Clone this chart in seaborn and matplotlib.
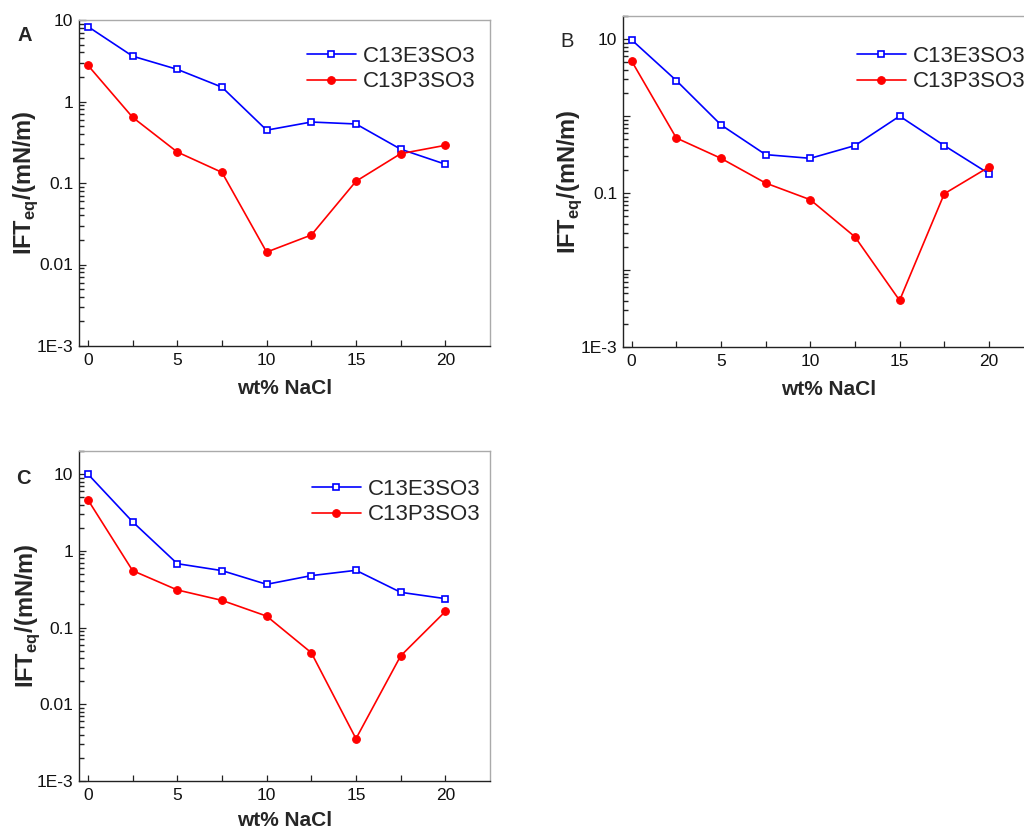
import numpy as np
import pandas as pd
import matplotlib
matplotlib.use("Agg")
import matplotlib.pyplot as plt
import matplotlib.ticker as mticker
import seaborn as sns

sns.set_style("ticks")
plt.rcParams['font.family'] = ['Liberation Sans', 'DejaVu Sans']
plt.rcParams['mathtext.fontset'] = 'custom'
plt.rcParams['mathtext.rm'] = 'Liberation Sans'
plt.rcParams['mathtext.bf'] = 'Liberation Sans:bold'

# wt% NaCl
nacl = [0, 2.5, 5, 7.5, 10, 12.5, 15, 17.5, 20]

# equilibrium IFT (mN/m)
e3_a = [8.3, 3.6, 2.48, 1.5, 0.445, 0.56, 0.53, 0.26, 0.17]
p3_a = [2.78, 0.64, 0.24, 0.135, 0.0142, 0.023, 0.105, 0.229, 0.29]

e3_b = [9.8, 2.9, 0.77, 0.316, 0.283, 0.414, 1.0, 0.414, 0.179]
p3_b = [5.2, 0.52, 0.283, 0.135, 0.082, 0.027, 0.00403, 0.098, 0.218]

e3_c = [10.0, 2.39, 0.68, 0.552, 0.366, 0.475, 0.557, 0.288, 0.238]
p3_c = [4.62, 0.552, 0.309, 0.226, 0.141, 0.047, 0.00356, 0.0427, 0.162]

series_names = ['C13E3SO3', 'C13P3SO3']
decades = [1e-3, 1e-2, 1e-1, 1, 10]
labels_full = ['1E-3', '0.01', '0.1', '1', '10']
labels_sparse = ['1E-3', '', '0.1', '', '10']

W, H = 1024, 831
fig = plt.figure(figsize=(W / 100, H / 100), dpi=100)

# box = (left, top, right, bottom) in pixels from the top-left corner
panels = [
    dict(box=(79, 20, 490, 346), ymax=10, e3=e3_a, p3=p3_a, ticks=labels_full,
         leg=(307, 46), letter='A', lpos=(18, 41), bold=True, ylab_x=-0.095, xpad=8),
    dict(box=(622.7, 16, 1033.6, 347), ymax=20, e3=e3_b, p3=p3_b, ticks=labels_sparse,
         leg=(857, 46), letter='B', lpos=(560, 47), bold=False, ylab_x=-0.093, xpad=8),
    dict(box=(79, 451, 490, 781), ymax=20, e3=e3_c, p3=p3_c, ticks=labels_full,
         leg=(312, 479), letter='C', lpos=(16, 484), bold=True, ylab_x=-0.09, xpad=6),
]

for p in panels:
    l, t, r, b = p['box']
    ax = fig.add_axes([l / W, 1 - b / H, (r - l) / W, (b - t) / H])

    df = pd.DataFrame({'NaCl': nacl + nacl,
                       'IFT': p['e3'] + p['p3'],
                       'series': [series_names[0]] * len(nacl) + [series_names[1]] * len(nacl)})

    sns.lineplot(data=df[df.series == series_names[0]], x='NaCl', y='IFT', ax=ax,
                 color='#0000ff', marker='s', markersize=5, markerfacecolor='white',
                 markeredgecolor='#0000ff', markeredgewidth=1.2, linewidth=1.2,
                 label=series_names[0])
    sns.lineplot(data=df[df.series == series_names[1]], x='NaCl', y='IFT', ax=ax,
                 color='#ff0000', marker='o', markersize=5.5, markerfacecolor='#ff0000',
                 markeredgecolor='#ff0000', markeredgewidth=0.8, linewidth=1.2,
                 label=series_names[1])

    ax.set_yscale('log')
    ax.set_ylim(1e-3, p['ymax'])
    ax.set_xlim(-0.5, 22.5)

    ax.yaxis.set_major_locator(mticker.FixedLocator(decades))
    ax.yaxis.set_major_formatter(mticker.FixedFormatter(p['ticks']))
    ax.yaxis.set_minor_locator(mticker.LogLocator(base=10, subs=(2, 3, 4, 5, 6, 7, 8, 9), numticks=50))
    ax.yaxis.set_minor_formatter(mticker.NullFormatter())

    xt = np.arange(0, 20.1, 2.5)
    ax.set_xticks(xt)
    ax.set_xticklabels([f'{v:g}' if v % 5 == 0 else '' for v in xt])
    ax.xaxis.set_minor_locator(mticker.NullLocator())

    ax.yaxis.set_tick_params(which='major', direction='in', length=5, width=0.9,
                             pad=4, left=True, right=False, color='#222222')
    ax.yaxis.set_tick_params(which='minor', direction='in', length=3.5, width=1.0,
                             left=True, right=False, color='#222222')
    ax.xaxis.set_tick_params(which='major', direction='in', length=4, width=0.9,
                             pad=5, bottom=True, top=False, color='#222222')
    ax.tick_params(axis='both', which='major', labelsize=12.5, labelcolor='#111111')

    for side in ['left', 'bottom']:
        ax.spines[side].set_color('#222222')
        ax.spines[side].set_linewidth(1.0)
    for side in ['top', 'right']:
        ax.spines[side].set_visible(True)
        ax.spines[side].set_color('#aaaaaa')
        ax.spines[side].set_linewidth(1.0)

    ax.set_xlabel('wt% NaCl', fontsize=15, fontweight='bold', labelpad=p['xpad'])
    ax.set_ylabel(r'IFT$_{\mathbf{eq}}$/(mN/m)', fontsize=17, fontweight='bold')
    ax.yaxis.set_label_coords(p['ylab_x'], 0.5)

    lx, ly = p['leg']
    ax.legend(loc='upper left', bbox_to_anchor=(lx / W, 1 - ly / H),
              bbox_transform=fig.transFigure, frameon=False, fontsize=16,
              handlelength=2.2, handletextpad=0.3, labelspacing=0.2,
              borderpad=0, borderaxespad=0)

    fig.text(p['lpos'][0] / W, 1 - p['lpos'][1] / H, p['letter'], fontsize=14.5,
             fontweight='bold' if p['bold'] else 'normal', va='baseline', ha='left')

fig.savefig('out.png', dpi=100)
